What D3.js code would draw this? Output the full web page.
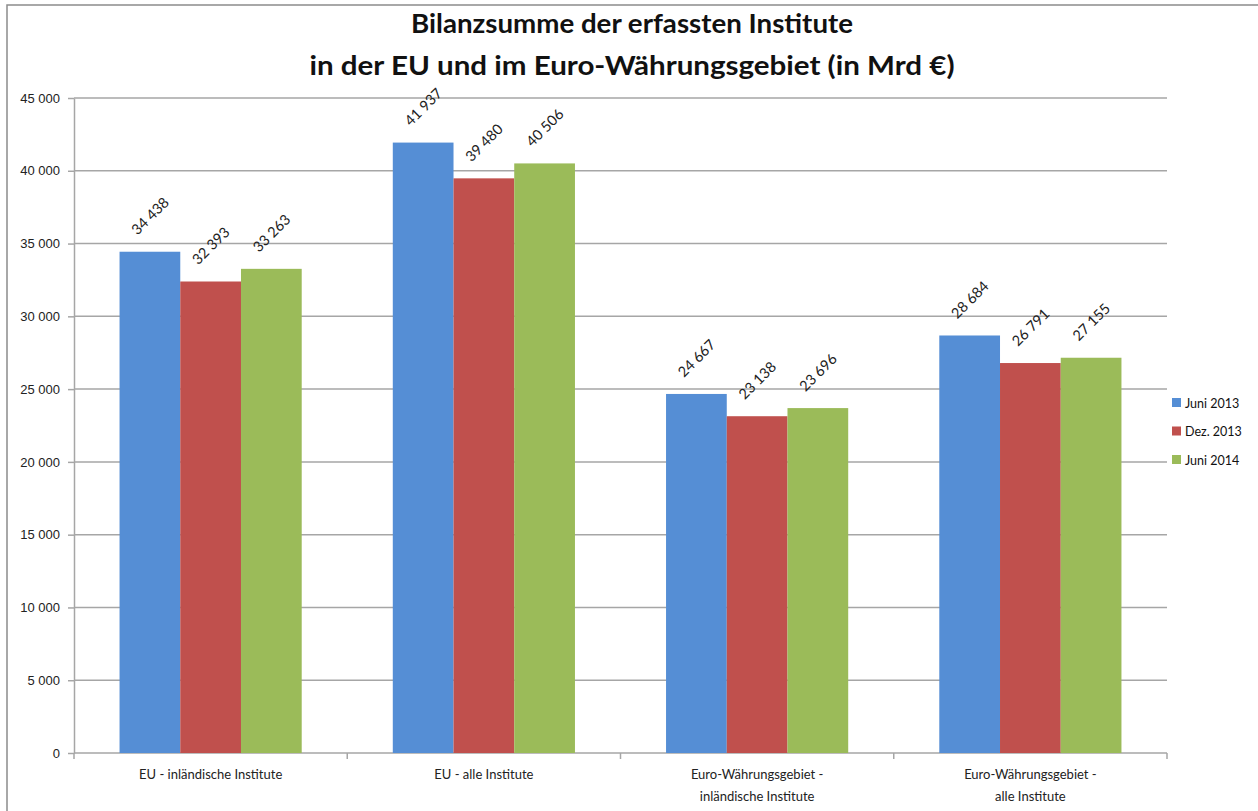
<!DOCTYPE html>
<html lang="de">
<head>
  <meta charset="UTF-8">
  <title>Bilanzsumme der erfassten Institute</title>
  <script src="https://d3js.org/d3.v7.min.js"></script>
  <style>
    body { margin: 0; background: #fff; font-family: Lato, "Open Sans", sans-serif; }
    .grid line { stroke: #a6a6a6; stroke-width: 1.5px; }
    .axis path, .axis line { stroke: #a6a6a6; stroke-width: 1.5px; }
    .axis text { font-size: 13px; fill: #222; }
    .label { font-size: 14.5px; fill: #222; }
    .legend { font-size: 12.5px; fill: #111; }
    .title { font-size: 27.5px; font-weight: bold; fill: #111; }
  </style>
</head>
<body>
  <svg width="1258" height="811"></svg>

  <script>
    const categories = [
      ["EU - inländische Institute"],
      ["EU - alle Institute"],
      ["Euro-Währungsgebiet -", "inländische Institute"],
      ["Euro-Währungsgebiet -", "alle Institute"]
    ];
    const seriesNames = ["Juni 2013", "Dez. 2013", "Juni 2014"];
    const juni2013 = [34438, 41937, 24667, 28684];
    const dez2013 = [32393, 39480, 23138, 26791];
    const juni2014 = [33263, 40506, 23696, 27155];
    const yTicks = [0, 5000, 10000, 15000, 20000, 25000, 30000, 35000, 40000, 45000];
    const titleLines = ["Bilanzsumme der erfassten Institute", "in der EU und im Euro-Währungsgebiet (in Mrd €)"];

    const colors = ["#558ed5", "#c0504d", "#9bbb59"];
    const series = [juni2013, dez2013, juni2014];

    const locale = d3.formatLocale({ decimal: ",", thousands: " ", grouping: [3], currency: ["", "€"] });
    const fmt = locale.format(",d");

    const svg = d3.select("svg");
    const margin = { top: 98, left: 74, right: 91, bottom: 58 };
    const width = 1258 - margin.left - margin.right;
    const height = 811 - margin.top - margin.bottom;

    // outer frame
    svg.append("rect")
      .attr("x", 7).attr("y", 5).attr("width", 1270).attr("height", 830)
      .attr("fill", "none").attr("stroke", "#8c8c8c").attr("stroke-width", 1.5);

    svg.selectAll(".title").data(titleLines).enter().append("text")
      .attr("class", "title")
      .attr("x", 632).attr("y", (d, i) => 33 + i * 42)
      .attr("text-anchor", "middle")
      .attr("textLength", (d, i) => i === 0 ? 442 : 645)
      .attr("lengthAdjust", "spacingAndGlyphs")
      .text(d => d);

    const g = svg.append("g").attr("transform", `translate(${margin.left},${margin.top})`);

    const x0 = d3.scaleBand().domain(d3.range(categories.length)).range([0, width]);
    const barW = x0.bandwidth() / 4.5;
    const x1 = d3.scaleBand().domain(d3.range(series.length))
      .range([0, barW * 3]);
    const groupOffset = (x0.bandwidth() - barW * 3) / 2;

    const y = d3.scaleLinear().domain([0, 45000]).range([height, 0]);

    g.append("g").attr("class", "grid")
      .selectAll("line").data(yTicks.slice(1)).enter().append("line")
      .attr("x1", 0).attr("x2", width)
      .attr("y1", d => y(d)).attr("y2", d => y(d));

    g.append("g").attr("class", "axis")
      .call(d3.axisLeft(y).tickValues(yTicks).tickSize(6).tickSizeOuter(0).tickFormat(fmt))
      .call(a => a.selectAll("text").attr("x", -14));

    const xAxis = g.append("g").attr("class", "axis")
      .attr("transform", `translate(0,${height})`);
    xAxis.append("line").attr("x1", 0).attr("x2", width).attr("y1", 0).attr("y2", 0);
    xAxis.selectAll(".tk").data(d3.range(categories.length + 1)).enter().append("line")
      .attr("x1", d => d * x0.step()).attr("x2", d => d * x0.step())
      .attr("y1", 0).attr("y2", 6);
    xAxis.selectAll(".cat").data(categories).enter().append("text")
      .attr("text-anchor", "middle")
      .attr("transform", (d, i) => `translate(${x0(i) + x0.bandwidth() / 2},26)`)
      .selectAll("tspan").data(d => d).enter().append("tspan")
      .attr("x", 0).attr("dy", (d, i) => i === 0 ? 0 : 22)
      .text(d => d);

    series.forEach((vals, s) => {
      const grp = g.append("g");
      grp.selectAll("rect").data(vals).enter().append("rect")
        .attr("x", (d, i) => x0(i) + groupOffset + x1(s))
        .attr("y", d => y(d))
        .attr("width", x1.bandwidth())
        .attr("height", d => height - y(d))
        .attr("fill", colors[s]);
      grp.selectAll("text").data(vals).enter().append("text")
        .attr("class", "label")
        .attr("text-anchor", "middle")
        .attr("dominant-baseline", "central")
        .attr("transform", (d, i) => {
          const cx = x0(i) + groupOffset + x1(s) + x1.bandwidth() / 2;
          return `translate(${cx},${y(d) - 36}) rotate(-45)`;
        })
        .text(d => fmt(d));
    });

    const legend = svg.append("g").attr("transform", "translate(1172,398)");
    seriesNames.forEach((name, i) => {
      legend.append("rect").attr("x", 0).attr("y", i * 28.5).attr("width", 9).attr("height", 9)
        .attr("fill", colors[i]);
      legend.append("text").attr("class", "legend")
        .attr("x", 13).attr("y", i * 28.5 + 9.5).text(name);
    });
  </script>
</body>
</html>
